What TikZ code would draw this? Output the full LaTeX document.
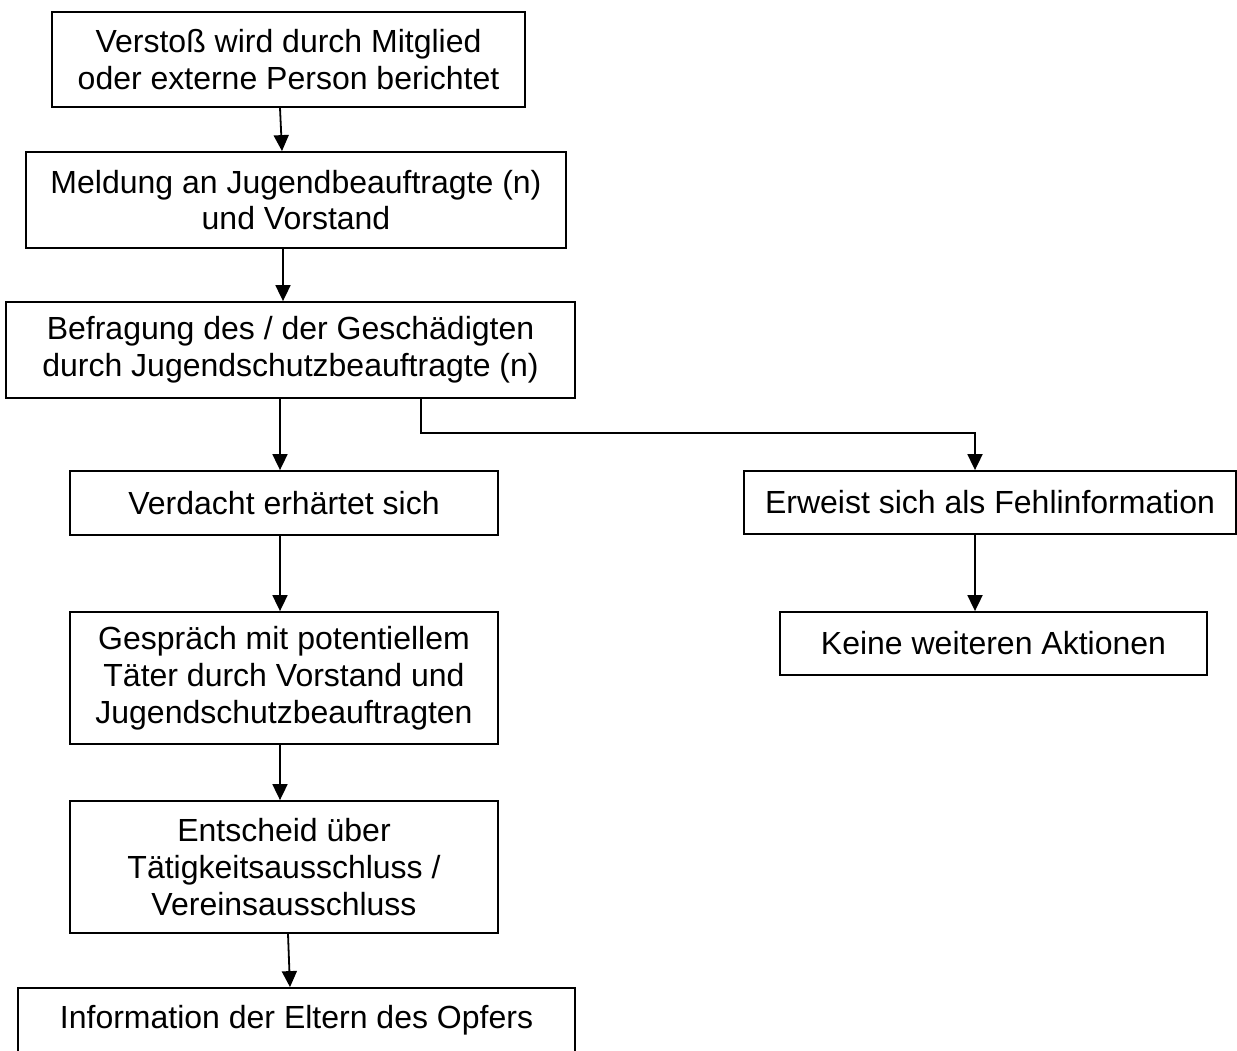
\documentclass[tikz,border=0pt]{standalone}
\usepackage{fontspec}
\setmainfont{Liberation Sans}
\usetikzlibrary{arrows.meta}
\begin{document}
\begin{tikzpicture}[x=1pt,y=1pt,
  box/.style={draw, line width=1.8pt, inner sep=0pt, align=center, font=\fontsize{32}{36.8}\selectfont},
  arr/.style={line width=1.8pt, -{Triangle[length=16pt,width=15pt]}}]
\useasboundingbox (0,0) rectangle (1237,-1050);
\node[box, minimum width=473, minimum height=95] (b1) at (288.5,-59.5) {Verstoß wird durch Mitglied\\oder externe Person berichtet};
\node[box, minimum width=540, minimum height=96] (b2) at (296,-200) {Meldung an Jugendbeauftragte (n)\\und Vorstand};
\node[box, minimum width=569, minimum height=96] (b3) at (290.5,-350) {Befragung des / der Geschädigten\\durch Jugendschutzbeauftragte (n)};
\node[box, minimum width=428, minimum height=64] (b4) at (284,-503) {Verdacht erhärtet sich};
\node[box, minimum width=492, minimum height=63] (b5) at (990,-502.5) {Erweist sich als Fehlinformation};
\node[box, minimum width=427, minimum height=63] (b6) at (993.5,-643.5) {Keine weiteren Aktionen};
\node[box, minimum width=428, minimum height=132] (b7) at (284,-678) {Gespräch mit potentiellem\\Täter durch Vorstand und\\Jugendschutzbeauftragten};
\node[box, minimum width=428, minimum height=132] (b8) at (284,-867) {Entscheid über\\Tätigkeitsausschluss /\\Vereinsausschluss};
\node[box, minimum width=557, minimum height=64] (b9) at (296.5,-1020) {Information der Eltern des Opfers};
\coordinate (k1) at (421,-433);
\coordinate (k2) at (975,-433);
\draw[arr] ([xshift=-8.5]b1.south) -- ([xshift=-14]b2.north);
\draw[arr] ([xshift=-13]b2.south) -- ([xshift=-7.5]b3.north);
\draw[arr] ([xshift=-10.5]b3.south) -- ([xshift=-4]b4.north);
\draw[arr] ([xshift=130.5]b3.south) -- (k1) -- (k2) -- ([xshift=-15]b5.north);
\draw[arr] ([xshift=-15]b5.south) -- ([xshift=-18.5]b6.north);
\draw[arr] ([xshift=-4]b4.south) -- ([xshift=-4]b7.north);
\draw[arr] ([xshift=-4]b7.south) -- ([xshift=-4]b8.north);
\draw[arr] ([xshift=4]b8.south) -- ([xshift=-6.5]b9.north);
\end{tikzpicture}
\end{document}
